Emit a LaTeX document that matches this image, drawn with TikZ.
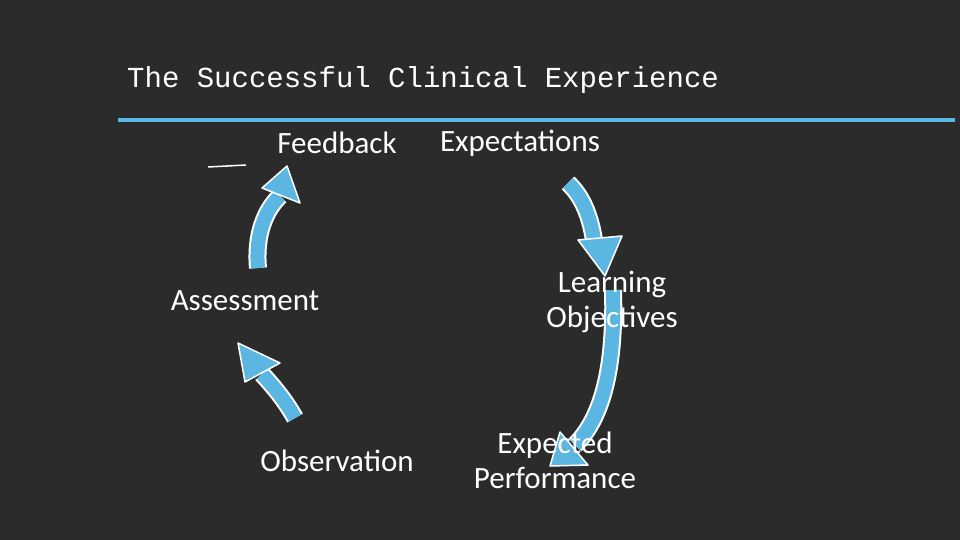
\documentclass[tikz,border=0pt]{standalone}
\usepackage{fontspec}
\setmainfont{Carlito}
\setmonofont{Liberation Mono}
\begin{document}
\begin{tikzpicture}[x=1pt,y=-1pt,
  lbl/.style={text=white,font=\fontsize{31}{35}\selectfont,align=center,inner sep=0},
  shaft/.style={draw=white,line width=18pt},
  shaftin/.style={draw=arrowblue,line width=14pt},
  head/.style={fill=arrowblue,draw=white,line width=1.5pt,line join=round}]
\definecolor{arrowblue}{HTML}{5BB7E2}
\definecolor{board}{HTML}{2B2B2B}
\fill[board] (0,0) rectangle (960,540);
\useasboundingbox (0,0) rectangle (960,540);
\node[anchor=west,text=white,font=\ttfamily\fontsize{29}{30}\selectfont,inner sep=0] (title) at (127,80) {The Successful Clinical Experience};
\coordinate (l1) at (118,120); \coordinate (l2) at (955,120);
\draw[arrowblue,line width=3.5pt] (l1) -- (l2);
\node[lbl] (fb) at (337,143) {Feedback};
\node[lbl] (ex) at (520,143) {Expectations};
\node[lbl] (as) at (245,301) {Assessment};
\node[lbl] (ob) at (337,461) {Observation};
% arrows
\foreach \s in {shaft,shaftin}{
 \draw[\s] (258,268) .. controls (255,235) and (265,210) .. (280,196);
 \draw[\s] (295,418) .. controls (285,400) and (273,386) .. (262,374);
 \draw[\s] (568,183) .. controls (582,196) and (590,215) .. (594,240);
 \draw[\s] (613,290) .. controls (615,360) and (605,415) .. (575,445);
}
\draw[head] (262,188) -- (287,166) -- (300,203) -- cycle;
\draw[head] (245,382) -- (238,343) -- (280,363) -- cycle;
\draw[head] (578,240) -- (605,276) -- (622,236) -- cycle;
\draw[head] (560,432) -- (550,466) -- (588,465) -- cycle;
\node[lbl] (lo) at (612,302) {Learning\\Objectives};
\node[lbl] (ep) at (555,460) {Expected\\Performance};
\coordinate (m1) at (208,167); \coordinate (m2) at (246,165);
\draw[white,line width=1.5pt] (m1) -- (m2);
\end{tikzpicture}
\end{document}
